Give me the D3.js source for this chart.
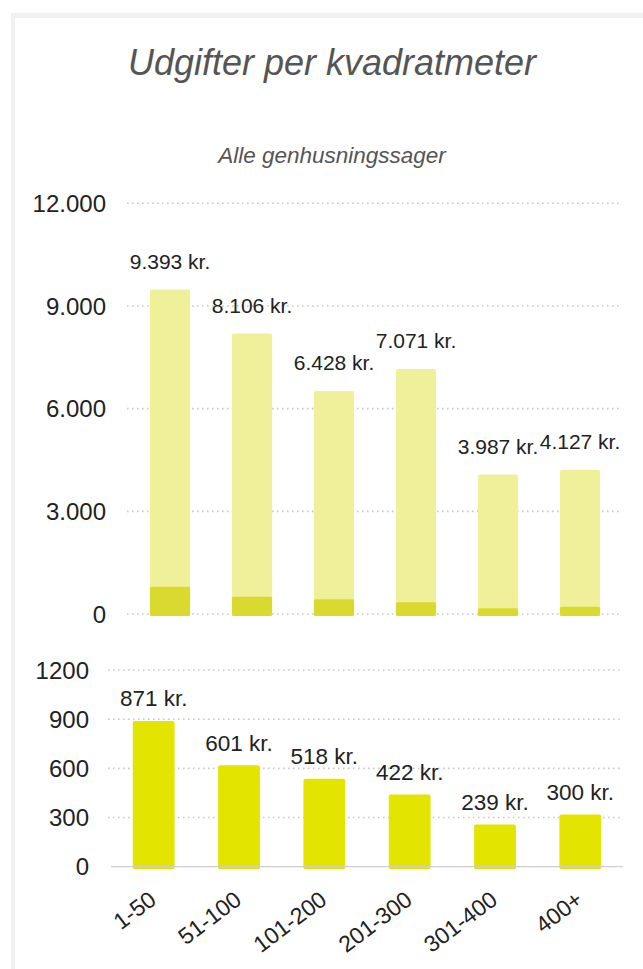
<!DOCTYPE html>
<html>
<head>
<meta charset="utf-8">
<script src="https://cdn.jsdelivr.net/npm/d3@7"></script>
<style>
  html, body { margin: 0; padding: 0; background: #fff; }
  svg { display: block; }
  text { font-family: "Liberation Sans", Arial, Helvetica, sans-serif; }
</style>
</head>
<body>
<svg id="chart" width="643" height="969"></svg>
<script>
// ---- data ----
const categories = ["1-50", "51-100", "101-200", "201-300", "301-400", "400+"];
const totalPerM2 = [9393, 8106, 6428, 7071, 3987, 4127];
const darkPortion = [710, 420, 340, 255, 80, 125];
const genhusPerM2 = [871, 601, 518, 422, 239, 300];
const topTicks = [0, 3000, 6000, 9000, 12000];
const bottomTicks = [0, 300, 600, 900, 1200];
const titleText = "Udgifter per kvadratmeter";
const subtitleText = "Alle genhusningssager";

const locale = d3.formatLocale({ decimal: ",", thousands: ".", grouping: [3], currency: ["", " kr."] });
const fmtTop = locale.format(",d");
const fmtKr = v => locale.format(",d")(v) + " kr.";

const svg = d3.select("#chart");

// frame
svg.append("rect").attr("x", 11).attr("y", 13).attr("width", 632).attr("height", 956).attr("fill", "#f1f1f1");
svg.append("rect").attr("x", 15).attr("y", 18).attr("width", 628).attr("height", 951).attr("fill", "#ffffff");

// titles
svg.append("text").attr("x", 332).attr("y", 75).attr("text-anchor", "middle")
  .attr("font-size", 36).attr("font-style", "italic").attr("fill", "#555").text(titleText);
svg.append("text").attr("x", 332).attr("y", 163).attr("text-anchor", "middle")
  .attr("font-size", 22.5).attr("font-style", "italic").attr("fill", "#555").text(subtitleText);

const gridColor = "#c9c9c9";

// ---- top chart ----
const yTop = d3.scaleLinear().domain([0, 12000]).range([614, 203.3]);
const xTop = d3.scaleBand().domain(categories).range([129, 621]).paddingInner(0.51).paddingOuter(0.255);

const gTopAxis = svg.append("g").attr("transform", "translate(106,0)")
  .call(d3.axisLeft(yTop).tickValues(topTicks).tickFormat(fmtTop).tickSize(0).tickPadding(0));
gTopAxis.select(".domain").remove();
gTopAxis.selectAll("text").attr("font-size", 24).attr("fill", "#222")
  .attr("font-family", "Liberation Sans, Arial, sans-serif").attr("dy", "0.34em");

svg.append("g").selectAll("line").data(topTicks).join("line")
  .attr("x1", 127).attr("x2", 621)
  .attr("y1", d => yTop(d)).attr("y2", d => yTop(d))
  .attr("stroke", gridColor).attr("stroke-width", 1.6).attr("stroke-dasharray", "1.6,3.4");

const topData = categories.map((c, i) => ({ c, total: totalPerM2[i], dark: darkPortion[i], gen: genhusPerM2[i] }));

svg.append("g").selectAll("rect").data(topData).join("rect")
  .attr("x", d => xTop(d.c)).attr("width", xTop.bandwidth())
  .attr("y", d => yTop(d.total) - 3)
  .attr("height", d => yTop(0) + 2 - (yTop(d.total) - 3))
  .attr("rx", 2).attr("fill", "#f0f09b");

svg.append("g").selectAll("rect").data(topData).join("rect")
  .attr("x", d => xTop(d.c)).attr("width", xTop.bandwidth())
  .attr("y", d => yTop(d.dark) - 3)
  .attr("height", d => yTop(0) + 2 - (yTop(d.dark) - 3))
  .attr("rx", 1.5).attr("fill", "#d9d930");

svg.append("g").selectAll("text").data(topData).join("text")
  .attr("x", d => xTop(d.c) + xTop.bandwidth() / 2)
  .attr("y", d => yTop(d.total) - 24)
  .attr("text-anchor", "middle").attr("font-size", 21).attr("fill", "#222")
  .text(d => fmtKr(d.total));

// ---- bottom chart ----
const yBot = d3.scaleLinear().domain([0, 1200]).range([866.7, 670]);
const xBot = d3.scaleBand().domain(categories).range([111, 623]).paddingInner(0.51).paddingOuter(0.255);

const gBotAxis = svg.append("g").attr("transform", "translate(89,0)")
  .call(d3.axisLeft(yBot).tickValues(bottomTicks).tickFormat(d3.format("d")).tickSize(0).tickPadding(0));
gBotAxis.select(".domain").remove();
gBotAxis.selectAll("text").attr("font-size", 24).attr("fill", "#222")
  .attr("font-family", "Liberation Sans, Arial, sans-serif").attr("dy", "0.34em");

svg.append("g").selectAll("line").data(bottomTicks.filter(d => d > 0)).join("line")
  .attr("x1", 108).attr("x2", 621)
  .attr("y1", d => yBot(d)).attr("y2", d => yBot(d))
  .attr("stroke", gridColor).attr("stroke-width", 1.6).attr("stroke-dasharray", "1.6,3.4");

svg.append("g").selectAll("rect").data(topData).join("rect")
  .attr("x", d => xBot(d.c)).attr("width", xBot.bandwidth())
  .attr("y", d => yBot(d.gen) - 3)
  .attr("height", d => yBot(0) + 2.5 - (yBot(d.gen) - 3))
  .attr("rx", 2).attr("fill", "#e3e400");

svg.append("line").attr("x1", 111).attr("x2", 623).attr("y1", yBot(0)).attr("y2", yBot(0))
  .attr("stroke", "#cfcfcf").attr("stroke-width", 1.2);

svg.append("g").selectAll("text").data(topData).join("text")
  .attr("x", d => xBot(d.c) + xBot.bandwidth() / 2)
  .attr("y", d => yBot(d.gen) - 17.5)
  .attr("text-anchor", "middle").attr("font-size", 22.5).attr("fill", "#222")
  .text(d => fmtKr(d.gen));

// x axis labels
const gX = svg.append("g").attr("transform", `translate(0,${yBot(0)})`)
  .call(d3.axisBottom(xBot).tickSize(0).tickPadding(0));
gX.select(".domain").remove();
gX.selectAll("text")
  .attr("font-size", 23).attr("fill", "#222").attr("font-family", "Liberation Sans, Arial, sans-serif")
  .attr("text-anchor", "end").attr("dy", 0).attr("y", 0)
  .attr("transform", "translate(4,36) rotate(-37)");
</script>
</body>
</html>
